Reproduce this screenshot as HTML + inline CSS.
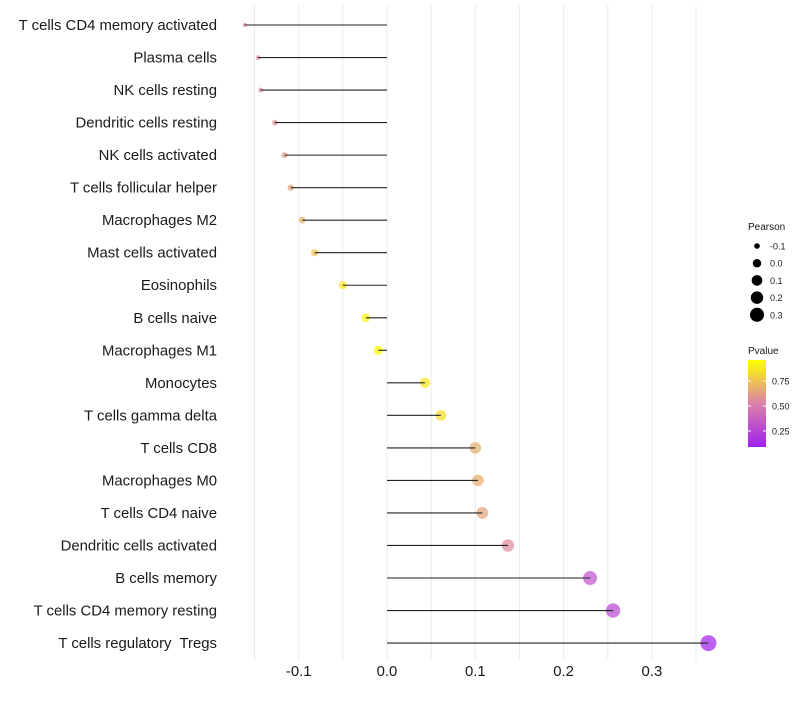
<!DOCTYPE html>
<html><head><meta charset="utf-8"><style>
body{margin:0;background:#fff;font-family:"Liberation Sans",sans-serif;}
text{white-space:pre;}
</style></head><body>
<svg id="chart" width="800" height="700" xmlns="http://www.w3.org/2000/svg">
<g id="grid"></g>
<g id="dots"></g>
<g id="marks"></g>
<g id="ylabels"></g>
<g id="xlabels"></g>
<g id="legend"></g>
</svg>
<script>
const categories=["T cells CD4 memory activated","Plasma cells","NK cells resting","Dendritic cells resting","NK cells activated","T cells follicular helper","Macrophages M2","Mast cells activated","Eosinophils","B cells naive","Macrophages M1","Monocytes","T cells gamma delta","T cells CD8","Macrophages M0","T cells CD4 naive","Dendritic cells activated","B cells memory","T cells CD4 memory resting","T cells regulatory  Tregs"];
const pearson=[-0.161,-0.146,-0.143,-0.127,-0.116,-0.109,-0.096,-0.082,-0.050,-0.024,-0.010,0.043,0.061,0.100,0.103,0.108,0.137,0.230,0.256,0.364];
const pvalue=[0.52,0.55,0.55,0.58,0.63,0.65,0.70,0.75,0.86,0.93,0.97,0.88,0.85,0.68,0.67,0.65,0.55,0.32,0.27,0.12];
const xTicks=[-0.1,0.0,0.1,0.2,0.3];
const xTickLabels=["-0.1","0.0","0.1","0.2","0.3"];
const sizeLegend=[-0.1,0.0,0.1,0.2,0.3];
const pLegend=[0.25,0.50,0.75];

const NS="http://www.w3.org/2000/svg";
function mk(tag,attrs,parent){const e=document.createElementNS(NS,tag);for(const k in attrs)e.setAttribute(k,attrs[k]);parent.appendChild(e);return e;}
const x=v=>387+v*883;
const y=i=>25+i*32.53;
const pMin=0.09,pMax=0.96;
const sMin=Math.min(...pearson),sMax=Math.max(...pearson);
const rad=v=>Math.sqrt(4+(v-sMin)/(sMax-sMin)*60);
const stops=[[160,32,240],[218,130,168],[255,255,0]];
function col(p){let t=Math.max(0,Math.min(1,(p-pMin)/(pMax-pMin)));let a,b,u;if(t<0.5){a=stops[0];b=stops[1];u=t*2;}else{a=stops[1];b=stops[2];u=(t-0.5)*2;}return "rgb("+a.map((c,i)=>Math.round(c+(b[i]-c)*u)).join(",")+")";}

const grid=document.getElementById('grid');
for(let v=-0.15;v<=0.36;v+=0.05){const l=mk('line',{x1:x(v),x2:x(v),y1:5,y2:660,stroke:'#ebebeb','stroke-width':1},grid);

}
const marks=document.getElementById('marks');
const dots=document.getElementById('dots');
categories.forEach((c,i)=>{
 const d=mk('circle',{cx:x(pearson[i]),cy:y(i),r:rad(pearson[i]),fill:col(pvalue[i]),'fill-opacity':0.72},dots);
 
 
 const s=mk('line',{x1:x(0),x2:x(pearson[i]),y1:y(i),y2:y(i),stroke:'#222','stroke-width':1.1},marks);
 
 
 const t=mk('text',{x:217,y:y(i)+5,'text-anchor':'end','font-size':14.9,fill:'#1a1a1a'},document.getElementById('ylabels'));
 t.textContent=c;
 
 
});
xTicks.forEach((v,i)=>{const t=mk('text',{x:x(v),y:676,'text-anchor':'middle','font-size':14.9,fill:'#1a1a1a'},document.getElementById('xlabels'));
 t.textContent=xTickLabels[i];
 
 });
const lg=document.getElementById('legend');
let tt=mk('text',{x:748,y:230,'font-size':10,fill:'#1a1a1a'},lg);tt.textContent='Pearson';


sizeLegend.forEach((v,i)=>{const cy=246+i*17.2;
 const c=mk('circle',{cx:757,cy:cy,r:rad(v)-0.5,fill:'#000'},lg);
 
 
 const t=mk('text',{x:770,y:cy+3.5,'font-size':9,fill:'#1a1a1a'},lg);t.textContent=v.toFixed(1);
 
 });
tt=mk('text',{x:748,y:354,'font-size':10,fill:'#1a1a1a'},lg);tt.textContent='Pvalue';


const defs=mk('defs',{},lg);const g=mk('linearGradient',{id:'pg',x1:0,y1:1,x2:0,y2:0},defs);
for(let k=0;k<=10;k++){mk('stop',{offset:k/10,'stop-color':col(pMin+(pMax-pMin)*k/10)},g);}
const bar=mk('rect',{x:748,y:360,width:18,height:87,fill:'url(#pg)'},lg);


pLegend.forEach(p=>{const cy=447-(p-pMin)*100;
 mk('line',{x1:748,x2:751,y1:cy,y2:cy,stroke:'#fff'},lg);mk('line',{x1:763,x2:766,y1:cy,y2:cy,stroke:'#fff'},lg);
 const t=mk('text',{x:772,y:cy+3.5,'font-size':9,fill:'#1a1a1a'},lg);t.textContent=p.toFixed(2);
 
 });
</script>
</body></html>
